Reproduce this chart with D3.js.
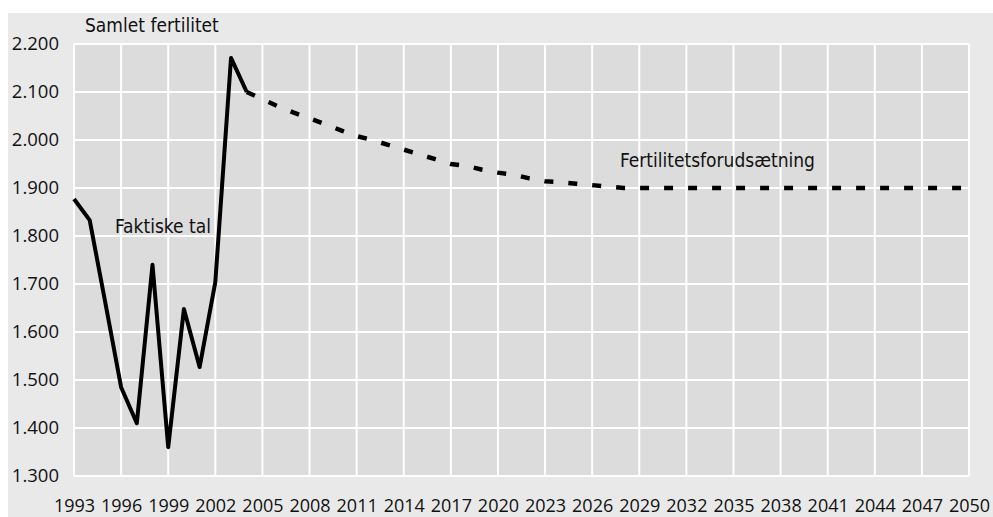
<!DOCTYPE html>
<html>
<head>
<meta charset="utf-8">
<script src="https://cdn.jsdelivr.net/npm/d3@7"></script>
<style>
  body { margin: 0; background: #fff; }
  .tick text { font-family: "Open Sans", sans-serif; fill: #111; }
  .lbl { font-family: "Liberation Sans Narrow", "DejaVu Sans Condensed", sans-serif; fill: #111; }
</style>
</head>
<body>
<div id="chart"></div>
<script>
// faktiske tal (samlet fertilitet pr. 1000 kvinder)
const actualYears = [1993, 1994, 1995, 1996, 1997, 1998, 1999, 2000, 2001, 2002, 2003, 2004];
const actualValues = [1877, 1833, 1660, 1485, 1410, 1740, 1360, 1648, 1527, 1704, 2171, 2100];

// fertilitetsforudsaetning
const projYears = d3.range(2004, 2051);
const projValues = [2100, 2085, 2070, 2057, 2045, 2033, 2020, 2008, 2000, 1990,
                    1980, 1970, 1960, 1950, 1946, 1938, 1932, 1928, 1920, 1914,
                    1912, 1909, 1906, 1903, 1900, 1900, 1900, 1900, 1900, 1900,
                    1900, 1900, 1900, 1900, 1900, 1900, 1900, 1900, 1900, 1900,
                    1900, 1900, 1900, 1900, 1900, 1900, 1900];

const xTicks = d3.range(1993, 2051, 3);
const yTicks = d3.range(1300, 2201, 100);

const W = 993, H = 517;
var margin = {top: 44, right: 24, bottom: 41, left: 74},
    width = 969 - margin.left,
    height = 476 - margin.top;

const loc = d3.formatLocale({decimal: ",", thousands: ".", grouping: [3], currency: ["", " kr"]});
const fmt = loc.format(",");

var svg = d3.select("#chart").append("svg")
    .attr("width", W).attr("height", H);

// outer panel
svg.append("rect")
    .attr("x", 8).attr("y", 13)
    .attr("width", W - 8).attr("height", H - 13)
    .attr("fill", "#e9e9e9");

var g = svg.append("g")
    .attr("transform", "translate(" + margin.left + "," + margin.top + ")");

const x = d3.scaleLinear().domain([1993, 2050]).range([0, width]);
const y = d3.scaleLinear().domain([1300, 2200]).range([height, 0]);

g.append("rect")
    .attr("width", width).attr("height", height)
    .attr("fill", "#dcdcdc");

// grid
g.selectAll(".vg").data(xTicks).enter().append("line")
    .attr("x1", d => x(d)).attr("x2", d => x(d))
    .attr("y1", 0).attr("y2", height)
    .attr("stroke", "#fff").attr("stroke-width", 2);
g.selectAll(".hg").data(yTicks).enter().append("line")
    .attr("x1", 0).attr("x2", width)
    .attr("y1", d => y(d)).attr("y2", d => y(d))
    .attr("stroke", "#fff").attr("stroke-width", 2);

// axes
var xAxis = g.append("g")
    .attr("transform", "translate(0," + height + ")")
    .call(d3.axisBottom(x).tickValues(xTicks).tickFormat(d3.format("d")).tickSize(0));
xAxis.selectAll("text")
    .attr("y", 36).attr("dy", null)
    .style("font-size", "18px");
var yAxis = g.append("g")
    .call(d3.axisLeft(y).tickValues(yTicks).tickFormat(fmt).tickSize(0).tickPadding(15));
yAxis.selectAll("text").style("font-size", "18.5px");
[xAxis, yAxis].forEach(a => a.select(".domain").remove());

const line = d3.line()
    .x(d => x(d[0]))
    .y(d => y(d[1]));

g.append("path")
    .datum(projYears.map((yr, i) => [yr, projValues[i]]))
    .attr("d", line)
    .attr("fill", "none")
    .attr("stroke", "#000")
    .attr("stroke-width", 4.5)
    .attr("stroke-dasharray", "9,15");

g.append("path")
    .datum(actualYears.map((yr, i) => [yr, actualValues[i]]))
    .attr("d", line)
    .attr("fill", "none")
    .attr("stroke", "#000")
    .attr("stroke-width", 4)
    .attr("stroke-linejoin", "round");

// labels
svg.append("text").attr("class", "lbl")
    .attr("x", 85).attr("y", 32)
    .style("font-size", "19px")
    .text("Samlet fertilitet");
svg.append("text").attr("class", "lbl")
    .attr("x", 115).attr("y", 233)
    .style("font-size", "19px")
    .text("Faktiske tal");
svg.append("text").attr("class", "lbl")
    .attr("x", 620).attr("y", 167)
    .style("font-size", "19px")
    .text("Fertilitetsforudsætning");
</script>
</body>
</html>
